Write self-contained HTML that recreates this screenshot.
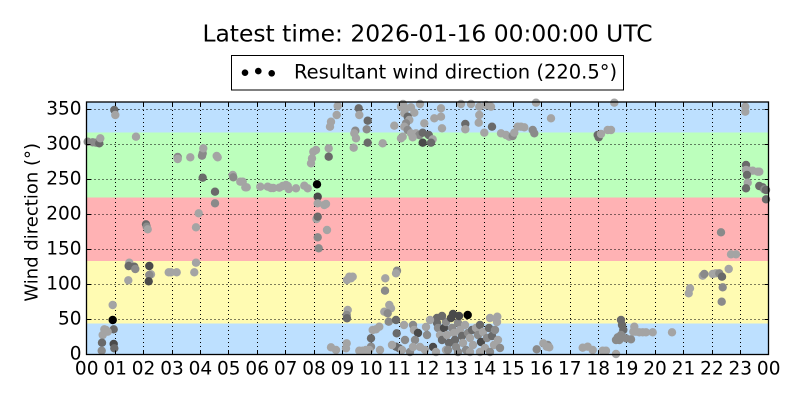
<!DOCTYPE html>
<html><head><meta charset="utf-8"><style>
html,body{margin:0;padding:0;background:#fff;}
svg{display:block;}
text{font-family:"DejaVu Sans","Liberation Sans",sans-serif;fill:#000;}
</style></head><body>
<svg width="800" height="400" viewBox="0 0 800 400" xmlns="http://www.w3.org/2000/svg">
<rect x="0" y="0" width="800" height="400" fill="#fff"/>
<text x="427.5" y="41.7" font-size="23.4" text-anchor="middle">Latest time: 2026-01-16 00:00:00 UTC</text>
<rect x="231.5" y="55.5" width="392" height="34.5" fill="#fff" stroke="#000" stroke-width="1"/>
<circle cx="245" cy="72.7" r="3.3" fill="#000"/><circle cx="258.3" cy="71.1" r="3.3" fill="#000"/><circle cx="271.7" cy="73.3" r="3.3" fill="#000"/>
<text x="294" y="78.3" font-size="19.5">Resultant wind direction (220.5°)</text>
<g shape-rendering="crispEdges">
<rect x="86.5" y="102" width="682" height="30.7" fill="#bde0ff"/>
<rect x="86.5" y="132.7" width="682" height="65" fill="#bcffbc"/>
<rect x="86.5" y="197.7" width="682" height="63.3" fill="#ffb2b4"/>
<rect x="86.5" y="261" width="682" height="62.3" fill="#fffbb2"/>
<rect x="86.5" y="323.3" width="682" height="31.2" fill="#bde0ff"/>
</g>
<g stroke="#000" stroke-width="1" stroke-dasharray="1,3" fill="none">
<path d="M86.5 109.5H768.5M86.5 144.5H768.5M86.5 179.5H768.5M86.5 214.5H768.5M86.5 249.5H768.5M86.5 284.5H768.5M86.5 319.5H768.5"/>
<path d="M115.5 102V354.5M143.5 102V354.5M172.5 102V354.5M200.5 102V354.5M228.5 102V354.5M257.5 102V354.5M285.5 102V354.5M314.5 102V354.5M342.5 102V354.5M371.5 102V354.5M399.5 102V354.5M427.5 102V354.5M456.5 102V354.5M484.5 102V354.5M513.5 102V354.5M541.5 102V354.5M570.5 102V354.5M598.5 102V354.5M626.5 102V354.5M655.5 102V354.5M683.5 102V354.5M712.5 102V354.5M740.5 102V354.5"/>
</g>
<g>
<circle cx="114.3" cy="110" r="4.2" fill="#6a6a6a"/><circle cx="115.3" cy="115" r="4.2" fill="#a4a4a4"/>
<circle cx="87.7" cy="141.7" r="4.2" fill="#8a8a8a"/><circle cx="92.7" cy="142.3" r="4.2" fill="#8a8a8a"/><circle cx="96" cy="142.7" r="4.2" fill="#8a8a8a"/><circle cx="99.3" cy="143.3" r="4.2" fill="#6a6a6a"/><circle cx="100.3" cy="138.3" r="4.2" fill="#a4a4a4"/>
<circle cx="136" cy="136.7" r="4.2" fill="#a4a4a4"/>
<circle cx="177.7" cy="157" r="4.2" fill="#8a8a8a"/><circle cx="177.7" cy="159" r="4.2" fill="#a4a4a4"/><circle cx="190.3" cy="157.3" r="4.2" fill="#a4a4a4"/><circle cx="202" cy="155.7" r="4.2" fill="#8a8a8a"/><circle cx="202.7" cy="153.3" r="4.2" fill="#8a8a8a"/><circle cx="203.3" cy="148.3" r="4.2" fill="#a4a4a4"/><circle cx="216.7" cy="156" r="4.2" fill="#a4a4a4"/><circle cx="217.7" cy="157.3" r="4.2" fill="#a4a4a4"/>
<circle cx="202.7" cy="177.7" r="4.2" fill="#6a6a6a"/><circle cx="215" cy="191.7" r="4.2" fill="#6a6a6a"/><circle cx="215" cy="203.3" r="4.2" fill="#8a8a8a"/>
<circle cx="232.7" cy="175" r="4.2" fill="#a4a4a4"/><circle cx="233.3" cy="177.3" r="4.2" fill="#8a8a8a"/><circle cx="240.3" cy="181.7" r="4.2" fill="#a4a4a4"/><circle cx="242.7" cy="181.7" r="4.2" fill="#a4a4a4"/><circle cx="245.3" cy="187.3" r="4.2" fill="#a4a4a4"/><circle cx="246.7" cy="187.3" r="4.2" fill="#a4a4a4"/><circle cx="260.3" cy="186.7" r="4.2" fill="#a4a4a4"/><circle cx="267.7" cy="186.7" r="4.2" fill="#a4a4a4"/><circle cx="271" cy="188" r="4.2" fill="#a4a4a4"/><circle cx="273.3" cy="188" r="4.2" fill="#a4a4a4"/><circle cx="279.3" cy="187.7" r="4.2" fill="#a4a4a4"/><circle cx="282.7" cy="186" r="4.2" fill="#a4a4a4"/><circle cx="286" cy="185" r="4.2" fill="#a4a4a4"/><circle cx="287.7" cy="186" r="4.2" fill="#a4a4a4"/><circle cx="288.7" cy="189" r="4.2" fill="#a4a4a4"/><circle cx="296" cy="188.3" r="4.2" fill="#a4a4a4"/><circle cx="304.3" cy="185.7" r="4.2" fill="#a4a4a4"/><circle cx="307.7" cy="188.3" r="4.2" fill="#a4a4a4"/>
<circle cx="313.3" cy="151.7" r="4.2" fill="#a4a4a4"/><circle cx="312" cy="158.3" r="4.2" fill="#a4a4a4"/><circle cx="311" cy="163.3" r="4.2" fill="#a4a4a4"/><circle cx="317.7" cy="196.7" r="4.2" fill="#4a4a4a"/><circle cx="317.7" cy="203.3" r="4.2" fill="#a4a4a4"/><circle cx="324.3" cy="205" r="4.2" fill="#a4a4a4"/><circle cx="326" cy="204" r="4.2" fill="#a4a4a4"/><circle cx="316.5" cy="219" r="4.2" fill="#a4a4a4"/><circle cx="317.7" cy="216.7" r="4.2" fill="#6a6a6a"/><circle cx="327" cy="230" r="4.2" fill="#a4a4a4"/><circle cx="317.7" cy="237.3" r="4.2" fill="#8a8a8a"/><circle cx="318.7" cy="248.3" r="4.2" fill="#8a8a8a"/><circle cx="317" cy="184.3" r="4.2" fill="#000"/>
<circle cx="198.7" cy="213.3" r="4.2" fill="#a4a4a4"/><circle cx="196" cy="227.3" r="4.2" fill="#a4a4a4"/><circle cx="146" cy="224.3" r="4.2" fill="#6a6a6a"/><circle cx="146.7" cy="226.7" r="4.2" fill="#8a8a8a"/><circle cx="147.7" cy="229.3" r="4.2" fill="#a4a4a4"/>
<circle cx="196" cy="262.7" r="4.2" fill="#a4a4a4"/><circle cx="194.3" cy="272.3" r="4.2" fill="#a4a4a4"/><circle cx="129.3" cy="262.7" r="4.2" fill="#a4a4a4"/><circle cx="128.7" cy="266" r="4.2" fill="#6a6a6a"/><circle cx="134.3" cy="266.7" r="4.2" fill="#6a6a6a"/><circle cx="135.3" cy="269" r="4.2" fill="#8a8a8a"/><circle cx="128.3" cy="280.3" r="4.2" fill="#a4a4a4"/><circle cx="149.3" cy="266" r="4.2" fill="#4a4a4a"/><circle cx="151" cy="274.3" r="4.2" fill="#a4a4a4"/><circle cx="149.3" cy="275" r="4.2" fill="#8a8a8a"/><circle cx="148.7" cy="281.3" r="4.2" fill="#4a4a4a"/><circle cx="168.7" cy="272.3" r="4.2" fill="#a4a4a4"/><circle cx="171" cy="272.3" r="4.2" fill="#a4a4a4"/><circle cx="176.7" cy="272.3" r="4.2" fill="#a4a4a4"/>
<circle cx="112.7" cy="305" r="4.2" fill="#a4a4a4"/><circle cx="113.7" cy="329.3" r="4.2" fill="#6a6a6a"/><circle cx="104.3" cy="329.3" r="4.2" fill="#a4a4a4"/><circle cx="106" cy="330" r="4.2" fill="#a4a4a4"/><circle cx="107.7" cy="331.7" r="4.2" fill="#a4a4a4"/><circle cx="102.7" cy="335" r="4.2" fill="#a4a4a4"/><circle cx="102" cy="342.7" r="4.2" fill="#6a6a6a"/><circle cx="101.7" cy="350.7" r="4.2" fill="#8a8a8a"/><circle cx="113.7" cy="344" r="4.2" fill="#4a4a4a"/><circle cx="114.3" cy="348.3" r="4.2" fill="#6a6a6a"/><circle cx="112.7" cy="320" r="4.2" fill="#000"/>
<circle cx="337.7" cy="106" r="4.2" fill="#a4a4a4"/><circle cx="336.7" cy="115" r="4.2" fill="#a4a4a4"/><circle cx="331" cy="121.7" r="4.2" fill="#a4a4a4"/><circle cx="330" cy="126.7" r="4.2" fill="#a4a4a4"/><circle cx="358.7" cy="108.3" r="4.2" fill="#6a6a6a"/><circle cx="359.3" cy="115" r="4.2" fill="#a4a4a4"/><circle cx="367.7" cy="120.7" r="4.2" fill="#6a6a6a"/><circle cx="366.7" cy="129.3" r="4.2" fill="#8a8a8a"/><circle cx="355.3" cy="130.7" r="4.2" fill="#8a8a8a"/><circle cx="354.3" cy="133.3" r="4.2" fill="#a4a4a4"/><circle cx="356" cy="138.3" r="4.2" fill="#a4a4a4"/><circle cx="367.7" cy="142.7" r="4.2" fill="#6a6a6a"/><circle cx="353.7" cy="147.7" r="4.2" fill="#a4a4a4"/><circle cx="328.7" cy="148.3" r="4.2" fill="#a4a4a4"/><circle cx="328.7" cy="156.7" r="4.2" fill="#6a6a6a"/><circle cx="382.7" cy="143.3" r="4.2" fill="#a4a4a4"/><circle cx="394.3" cy="125.7" r="4.2" fill="#a4a4a4"/><circle cx="316" cy="150" r="4.2" fill="#a4a4a4"/>
<circle cx="401" cy="106.7" r="4.2" fill="#a4a4a4"/><circle cx="406" cy="108.3" r="4.2" fill="#a4a4a4"/><circle cx="411" cy="107.3" r="4.2" fill="#a4a4a4"/><circle cx="414.3" cy="112.7" r="4.2" fill="#a4a4a4"/><circle cx="404.3" cy="113.3" r="4.2" fill="#a4a4a4"/><circle cx="407.7" cy="116.7" r="4.2" fill="#6a6a6a"/><circle cx="409.3" cy="120" r="4.2" fill="#a4a4a4"/><circle cx="406" cy="123.3" r="4.2" fill="#8a8a8a"/><circle cx="404.3" cy="126.7" r="4.2" fill="#a4a4a4"/><circle cx="407.7" cy="130" r="4.2" fill="#8a8a8a"/><circle cx="411" cy="133.3" r="4.2" fill="#a4a4a4"/><circle cx="416" cy="133.3" r="4.2" fill="#a4a4a4"/><circle cx="419.3" cy="135" r="4.2" fill="#8a8a8a"/><circle cx="422.7" cy="132.7" r="4.2" fill="#6a6a6a"/><circle cx="428.7" cy="135" r="4.2" fill="#6a6a6a"/><circle cx="432.7" cy="139.3" r="4.2" fill="#a4a4a4"/><circle cx="422.7" cy="142.7" r="4.2" fill="#4a4a4a"/><circle cx="431" cy="142.7" r="4.2" fill="#6a6a6a"/><circle cx="401" cy="138.3" r="4.2" fill="#a4a4a4"/><circle cx="402.7" cy="136.7" r="4.2" fill="#a4a4a4"/><circle cx="412.7" cy="137.3" r="4.2" fill="#a4a4a4"/><circle cx="424.3" cy="123.3" r="4.2" fill="#a4a4a4"/><circle cx="434.3" cy="118.3" r="4.2" fill="#a4a4a4"/><circle cx="441" cy="108.3" r="4.2" fill="#a4a4a4"/><circle cx="441" cy="116.7" r="4.2" fill="#a4a4a4"/><circle cx="442" cy="128.3" r="4.2" fill="#a4a4a4"/><circle cx="403" cy="104" r="4.2" fill="#a4a4a4"/><circle cx="420" cy="104" r="4.2" fill="#a4a4a4"/>
<circle cx="461" cy="104" r="4.2" fill="#a4a4a4"/><circle cx="471" cy="104" r="4.2" fill="#a4a4a4"/><circle cx="479.3" cy="106.7" r="4.2" fill="#a4a4a4"/><circle cx="479.3" cy="115" r="4.2" fill="#a4a4a4"/><circle cx="478.7" cy="122.7" r="4.2" fill="#a4a4a4"/><circle cx="465.3" cy="124" r="4.2" fill="#6a6a6a"/><circle cx="465.3" cy="129.3" r="4.2" fill="#a4a4a4"/><circle cx="484.3" cy="132.7" r="4.2" fill="#a4a4a4"/><circle cx="492" cy="126.7" r="4.2" fill="#6a6a6a"/><circle cx="491" cy="106.7" r="4.2" fill="#a4a4a4"/><circle cx="486" cy="105" r="4.2" fill="#a4a4a4"/>
<circle cx="501" cy="133.3" r="4.2" fill="#a4a4a4"/><circle cx="506" cy="135" r="4.2" fill="#a4a4a4"/><circle cx="509.3" cy="136.7" r="4.2" fill="#a4a4a4"/><circle cx="512.7" cy="136" r="4.2" fill="#8a8a8a"/><circle cx="514.3" cy="132.7" r="4.2" fill="#a4a4a4"/><circle cx="517.7" cy="126.7" r="4.2" fill="#a4a4a4"/><circle cx="521" cy="126.7" r="4.2" fill="#a4a4a4"/><circle cx="524.3" cy="127.3" r="4.2" fill="#a4a4a4"/><circle cx="532.7" cy="130" r="4.2" fill="#8a8a8a"/><circle cx="534.3" cy="133.3" r="4.2" fill="#8a8a8a"/><circle cx="536" cy="102.7" r="4.2" fill="#a4a4a4"/>
<circle cx="349.3" cy="276.7" r="4.2" fill="#a4a4a4"/><circle cx="351" cy="278.3" r="4.2" fill="#a4a4a4"/><circle cx="352.7" cy="276.7" r="4.2" fill="#a4a4a4"/><circle cx="347" cy="280" r="4.2" fill="#a4a4a4"/><circle cx="385.3" cy="278.3" r="4.2" fill="#a4a4a4"/><circle cx="397" cy="270.7" r="4.2" fill="#8a8a8a"/><circle cx="396" cy="273.3" r="4.2" fill="#a4a4a4"/><circle cx="385" cy="290.7" r="4.2" fill="#8a8a8a"/><circle cx="347.7" cy="310" r="4.2" fill="#a4a4a4"/><circle cx="346.7" cy="315" r="4.2" fill="#8a8a8a"/><circle cx="347" cy="318.3" r="4.2" fill="#6a6a6a"/><circle cx="389.3" cy="305" r="4.2" fill="#a4a4a4"/><circle cx="391" cy="308.3" r="4.2" fill="#a4a4a4"/><circle cx="384.3" cy="311.7" r="4.2" fill="#a4a4a4"/><circle cx="387.7" cy="313.3" r="4.2" fill="#8a8a8a"/><circle cx="388.7" cy="321.7" r="4.2" fill="#8a8a8a"/>
<circle cx="379.3" cy="326.7" r="4.2" fill="#a4a4a4"/><circle cx="376" cy="329.3" r="4.2" fill="#a4a4a4"/><circle cx="372.7" cy="330" r="4.2" fill="#a4a4a4"/><circle cx="371" cy="338.3" r="4.2" fill="#6a6a6a"/><circle cx="371" cy="346.7" r="4.2" fill="#8a8a8a"/><circle cx="396" cy="320" r="4.2" fill="#6a6a6a"/><circle cx="396.7" cy="333.3" r="4.2" fill="#6a6a6a"/><circle cx="331" cy="347.3" r="4.2" fill="#a4a4a4"/><circle cx="336" cy="350" r="4.2" fill="#a4a4a4"/><circle cx="346" cy="348.3" r="4.2" fill="#a4a4a4"/><circle cx="346.7" cy="343.3" r="4.2" fill="#a4a4a4"/><circle cx="359.3" cy="350.7" r="4.2" fill="#a4a4a4"/><circle cx="362.7" cy="350.7" r="4.2" fill="#a4a4a4"/><circle cx="366" cy="350" r="4.2" fill="#a4a4a4"/><circle cx="369.3" cy="350" r="4.2" fill="#a4a4a4"/><circle cx="396" cy="346.7" r="4.2" fill="#6a6a6a"/><circle cx="399.3" cy="348.3" r="4.2" fill="#6a6a6a"/><circle cx="380" cy="350" r="4.2" fill="#a4a4a4"/><circle cx="392" cy="345" r="4.2" fill="#a4a4a4"/>
<circle cx="404" cy="325" r="4.2" fill="#a4a4a4"/><circle cx="405" cy="340" r="4.2" fill="#8a8a8a"/><circle cx="402" cy="350" r="4.2" fill="#a4a4a4"/><circle cx="410" cy="352" r="4.2" fill="#8a8a8a"/>
<circle cx="413" cy="325" r="4.2" fill="#8a8a8a"/><circle cx="414" cy="330" r="4.2" fill="#a4a4a4"/><circle cx="418" cy="333" r="4.2" fill="#4a4a4a"/><circle cx="415" cy="340" r="4.2" fill="#8a8a8a"/><circle cx="413" cy="347" r="4.2" fill="#a4a4a4"/><circle cx="420" cy="347" r="4.2" fill="#a4a4a4"/><circle cx="426" cy="327" r="4.2" fill="#a4a4a4"/><circle cx="427" cy="335" r="4.2" fill="#8a8a8a"/><circle cx="433" cy="347" r="4.2" fill="#4a4a4a"/><circle cx="437" cy="318" r="4.2" fill="#6a6a6a"/><circle cx="437" cy="323" r="4.2" fill="#6a6a6a"/><circle cx="438" cy="328" r="4.2" fill="#8a8a8a"/><circle cx="440" cy="335" r="4.2" fill="#a4a4a4"/><circle cx="442" cy="340" r="4.2" fill="#6a6a6a"/><circle cx="444" cy="328" r="4.2" fill="#4a4a4a"/><circle cx="446" cy="322" r="4.2" fill="#8a8a8a"/><circle cx="447" cy="335" r="4.2" fill="#a4a4a4"/><circle cx="449" cy="343" r="4.2" fill="#6a6a6a"/><circle cx="451" cy="318" r="4.2" fill="#4a4a4a"/><circle cx="452" cy="328" r="4.2" fill="#8a8a8a"/><circle cx="454" cy="333" r="4.2" fill="#a4a4a4"/><circle cx="455" cy="340" r="4.2" fill="#6a6a6a"/><circle cx="456" cy="347" r="4.2" fill="#8a8a8a"/><circle cx="458" cy="323" r="4.2" fill="#8a8a8a"/><circle cx="459" cy="316" r="4.2" fill="#4a4a4a"/><circle cx="460" cy="330" r="4.2" fill="#a4a4a4"/><circle cx="462" cy="336" r="4.2" fill="#6a6a6a"/><circle cx="463" cy="343" r="4.2" fill="#a4a4a4"/><circle cx="465" cy="325" r="4.2" fill="#a4a4a4"/><circle cx="466" cy="350" r="4.2" fill="#8a8a8a"/><circle cx="468" cy="333" r="4.2" fill="#8a8a8a"/><circle cx="470" cy="338" r="4.2" fill="#a4a4a4"/><circle cx="472" cy="330" r="4.2" fill="#6a6a6a"/><circle cx="473" cy="345" r="4.2" fill="#a4a4a4"/><circle cx="476" cy="328" r="4.2" fill="#a4a4a4"/><circle cx="478" cy="335" r="4.2" fill="#8a8a8a"/><circle cx="480" cy="325" r="4.2" fill="#6a6a6a"/><circle cx="481" cy="342" r="4.2" fill="#4a4a4a"/><circle cx="483" cy="332" r="4.2" fill="#a4a4a4"/><circle cx="485" cy="348" r="4.2" fill="#a4a4a4"/><circle cx="487" cy="338" r="4.2" fill="#8a8a8a"/><circle cx="489" cy="328" r="4.2" fill="#6a6a6a"/><circle cx="490" cy="318" r="4.2" fill="#a4a4a4"/><circle cx="492" cy="336" r="4.2" fill="#6a6a6a"/><circle cx="494" cy="345" r="4.2" fill="#a4a4a4"/><circle cx="495" cy="330" r="4.2" fill="#8a8a8a"/><circle cx="497" cy="322" r="4.2" fill="#a4a4a4"/><circle cx="497.3" cy="316.7" r="4.2" fill="#a4a4a4"/><circle cx="498" cy="340" r="4.2" fill="#a4a4a4"/><circle cx="500" cy="348" r="4.2" fill="#8a8a8a"/><circle cx="425" cy="350" r="4.2" fill="#a4a4a4"/><circle cx="436" cy="352" r="4.2" fill="#a4a4a4"/><circle cx="446" cy="350" r="4.2" fill="#a4a4a4"/><circle cx="458" cy="352" r="4.2" fill="#8a8a8a"/><circle cx="470" cy="352" r="4.2" fill="#a4a4a4"/><circle cx="480" cy="352" r="4.2" fill="#a4a4a4"/><circle cx="490" cy="352" r="4.2" fill="#8a8a8a"/><circle cx="430" cy="320" r="4.2" fill="#a4a4a4"/><circle cx="442" cy="316" r="4.2" fill="#6a6a6a"/><circle cx="453" cy="314" r="4.2" fill="#4a4a4a"/><circle cx="448" cy="350" r="4.2" fill="#8a8a8a"/>
<circle cx="467.7" cy="315" r="4.2" fill="#000"/>
<circle cx="551" cy="118.3" r="4.2" fill="#a4a4a4"/><circle cx="614.3" cy="102.7" r="4.2" fill="#a4a4a4"/><circle cx="597.7" cy="135" r="4.2" fill="#6a6a6a"/><circle cx="598.7" cy="137.3" r="4.2" fill="#6a6a6a"/><circle cx="601" cy="134" r="4.2" fill="#a4a4a4"/><circle cx="607.7" cy="130" r="4.2" fill="#a4a4a4"/><circle cx="611" cy="130" r="4.2" fill="#a4a4a4"/>
<circle cx="745.3" cy="106.7" r="4.2" fill="#a4a4a4"/><circle cx="745.3" cy="111.7" r="4.2" fill="#a4a4a4"/><circle cx="746" cy="165" r="4.2" fill="#6a6a6a"/><circle cx="746" cy="170" r="4.2" fill="#a4a4a4"/><circle cx="749.3" cy="170.7" r="4.2" fill="#a4a4a4"/><circle cx="752.7" cy="170.7" r="4.2" fill="#a4a4a4"/><circle cx="757.7" cy="171.7" r="4.2" fill="#a4a4a4"/><circle cx="759.3" cy="171.7" r="4.2" fill="#a4a4a4"/><circle cx="747" cy="175" r="4.2" fill="#6a6a6a"/><circle cx="747.7" cy="182.7" r="4.2" fill="#a4a4a4"/><circle cx="746" cy="188.3" r="4.2" fill="#6a6a6a"/><circle cx="759.3" cy="186" r="4.2" fill="#6a6a6a"/><circle cx="762.7" cy="187.3" r="4.2" fill="#6a6a6a"/><circle cx="764.3" cy="189.3" r="4.2" fill="#8a8a8a"/><circle cx="766" cy="190" r="4.2" fill="#6a6a6a"/><circle cx="766" cy="199.3" r="4.2" fill="#6a6a6a"/>
<circle cx="721" cy="232.3" r="4.2" fill="#8a8a8a"/><circle cx="731" cy="254.3" r="4.2" fill="#a4a4a4"/><circle cx="736" cy="254.3" r="4.2" fill="#a4a4a4"/><circle cx="728.7" cy="269" r="4.2" fill="#a4a4a4"/><circle cx="702.7" cy="275.7" r="4.2" fill="#a4a4a4"/><circle cx="704.3" cy="274" r="4.2" fill="#8a8a8a"/><circle cx="712.7" cy="274" r="4.2" fill="#a4a4a4"/><circle cx="716" cy="273.3" r="4.2" fill="#a4a4a4"/><circle cx="719.3" cy="273.3" r="4.2" fill="#8a8a8a"/><circle cx="722" cy="276.7" r="4.2" fill="#6a6a6a"/><circle cx="722.7" cy="287.3" r="4.2" fill="#8a8a8a"/><circle cx="721.7" cy="301.7" r="4.2" fill="#8a8a8a"/><circle cx="690" cy="288.3" r="4.2" fill="#a4a4a4"/><circle cx="688.7" cy="293.3" r="4.2" fill="#a4a4a4"/>
<circle cx="621" cy="320" r="4.2" fill="#6a6a6a"/><circle cx="622" cy="325" r="4.2" fill="#6a6a6a"/><circle cx="623.3" cy="330" r="4.2" fill="#6a6a6a"/><circle cx="621" cy="335" r="4.2" fill="#8a8a8a"/><circle cx="617.7" cy="337.3" r="4.2" fill="#8a8a8a"/><circle cx="616" cy="340" r="4.2" fill="#8a8a8a"/><circle cx="619.3" cy="340" r="4.2" fill="#8a8a8a"/><circle cx="626" cy="338.3" r="4.2" fill="#8a8a8a"/><circle cx="631" cy="339.3" r="4.2" fill="#8a8a8a"/><circle cx="634.3" cy="326.7" r="4.2" fill="#a4a4a4"/><circle cx="633.3" cy="331.7" r="4.2" fill="#a4a4a4"/><circle cx="636" cy="331.7" r="4.2" fill="#a4a4a4"/><circle cx="639.3" cy="332.3" r="4.2" fill="#a4a4a4"/><circle cx="642.7" cy="332.3" r="4.2" fill="#a4a4a4"/><circle cx="646" cy="332.3" r="4.2" fill="#a4a4a4"/><circle cx="652.7" cy="332.3" r="4.2" fill="#a4a4a4"/><circle cx="672" cy="332.3" r="4.2" fill="#a4a4a4"/>
<circle cx="582.7" cy="347.7" r="4.2" fill="#a4a4a4"/><circle cx="587.7" cy="346.7" r="4.2" fill="#a4a4a4"/><circle cx="592.7" cy="350" r="4.2" fill="#a4a4a4"/><circle cx="602.7" cy="350.7" r="4.2" fill="#a4a4a4"/><circle cx="606" cy="350.7" r="4.2" fill="#a4a4a4"/><circle cx="616" cy="354" r="4.2" fill="#a4a4a4"/><circle cx="547.7" cy="345" r="4.2" fill="#8a8a8a"/><circle cx="549.3" cy="347.3" r="4.2" fill="#a4a4a4"/><circle cx="536.7" cy="349.3" r="4.2" fill="#8a8a8a"/><circle cx="543.3" cy="343.3" r="4.2" fill="#a4a4a4"/><circle cx="546.7" cy="346.7" r="4.2" fill="#a4a4a4"/>
</g>
<rect x="86.5" y="102" width="682" height="252.5" fill="none" stroke="#000" stroke-width="1.3"/>
<g stroke="#000" stroke-width="1" shape-rendering="crispEdges">
<path d="M115.5 354.5v-4M143.5 354.5v-4M172.5 354.5v-4M200.5 354.5v-4M228.5 354.5v-4M257.5 354.5v-4M285.5 354.5v-4M314.5 354.5v-4M342.5 354.5v-4M371.5 354.5v-4M399.5 354.5v-4M427.5 354.5v-4M456.5 354.5v-4M484.5 354.5v-4M513.5 354.5v-4M541.5 354.5v-4M570.5 354.5v-4M598.5 354.5v-4M626.5 354.5v-4M655.5 354.5v-4M683.5 354.5v-4M712.5 354.5v-4M740.5 354.5v-4"/>
<path d="M115.5 102v4M143.5 102v4M172.5 102v4M200.5 102v4M228.5 102v4M257.5 102v4M285.5 102v4M314.5 102v4M342.5 102v4M371.5 102v4M399.5 102v4M427.5 102v4M456.5 102v4M484.5 102v4M513.5 102v4M541.5 102v4M570.5 102v4M598.5 102v4M626.5 102v4M655.5 102v4M683.5 102v4M712.5 102v4M740.5 102v4"/>
<path d="M86.5 109.5h4M86.5 144.5h4M86.5 179.5h4M86.5 214.5h4M86.5 249.5h4M86.5 284.5h4M86.5 319.5h4"/>
<path d="M768.5 109.5h-4M768.5 144.5h-4M768.5 179.5h-4M768.5 214.5h-4M768.5 249.5h-4M768.5 284.5h-4M768.5 319.5h-4"/>
</g>
<g font-size="18.5" text-anchor="middle">
<text x="86.7" y="374.5">00</text><text x="115.1" y="374.5">01</text><text x="143.5" y="374.5">02</text><text x="172" y="374.5">03</text><text x="200.4" y="374.5">04</text><text x="228.8" y="374.5">05</text><text x="257.2" y="374.5">06</text><text x="285.6" y="374.5">07</text><text x="314" y="374.5">08</text><text x="342.5" y="374.5">09</text><text x="370.9" y="374.5">10</text><text x="399.3" y="374.5">11</text><text x="427.7" y="374.5">12</text><text x="456.1" y="374.5">13</text><text x="484.5" y="374.5">14</text><text x="513" y="374.5">15</text><text x="541.4" y="374.5">16</text><text x="569.8" y="374.5">17</text><text x="598.2" y="374.5">18</text><text x="626.6" y="374.5">19</text><text x="655" y="374.5">20</text><text x="683.5" y="374.5">21</text><text x="711.9" y="374.5">22</text><text x="740.3" y="374.5">23</text><text x="768.7" y="374.5">00</text>
</g>
<g font-size="18.5" text-anchor="end">
<text x="81.5" y="359.5">0</text><text x="81.5" y="324.5">50</text><text x="81.5" y="289.5">100</text><text x="81.5" y="254.5">150</text><text x="81.5" y="219.5">200</text><text x="81.5" y="184.5">250</text><text x="81.5" y="149.5">300</text><text x="81.5" y="114.5">350</text>
</g>
<text transform="translate(37.5,222.3) rotate(-90)" font-size="18" text-anchor="middle">Wind direction (°)</text>
</svg>
</body></html>
